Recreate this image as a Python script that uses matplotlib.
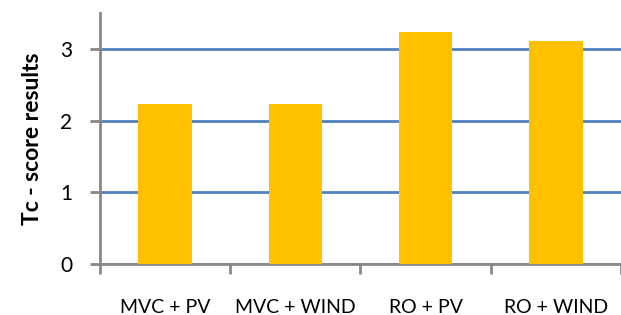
import matplotlib.pyplot as plt
import numpy as np

# data
categories = ["MVC + PV", "MVC + WIND", "RO + PV", "RO + WIND"]
scores = [2.23, 2.23, 3.24, 3.11]
y_ticks = [0, 1, 2, 3]

plt.rcParams['font.family'] = ['Lato', 'DejaVu Sans']

fig = plt.figure(figsize=(6.21, 3.15), dpi=100)
ax = fig.add_axes([0.161, 0.162, 0.839, 0.797])

x = np.arange(len(categories))
ax.bar(x, scores, width=0.41, color="#FFC000", zorder=3)

ax.set_xlim(-0.5, len(categories) - 0.5)
ax.set_ylim(0, 3.5)

# gridlines in blue
ax.set_yticks(y_ticks)
ax.yaxis.grid(True, color="#4F81BD", linewidth=2, zorder=1)
ax.set_axisbelow(True)

# major ticks between categories, labels on minor ticks at centers
ax.set_xticks(np.arange(-0.5, len(categories), 1.0))
ax.set_xticklabels([])
ax.set_xticks(x, minor=True)
ax.set_xticklabels(categories, minor=True, fontsize=14)
ax.tick_params(axis="x", which="minor", length=0, pad=25)
ax.tick_params(axis="x", which="major", length=7, width=2, color="#888888")
ax.tick_params(axis="y", length=7, width=2, color="#888888", labelsize=15, pad=13)

for s in ["top", "right"]:
    ax.spines[s].set_visible(False)
for s in ["left", "bottom"]:
    ax.spines[s].set_color("#888888")
    ax.spines[s].set_linewidth(2)

ax.set_ylabel("Tc - score results", fontsize=16.5, fontweight="bold", labelpad=12)

fig.savefig("out.png", dpi=100)
